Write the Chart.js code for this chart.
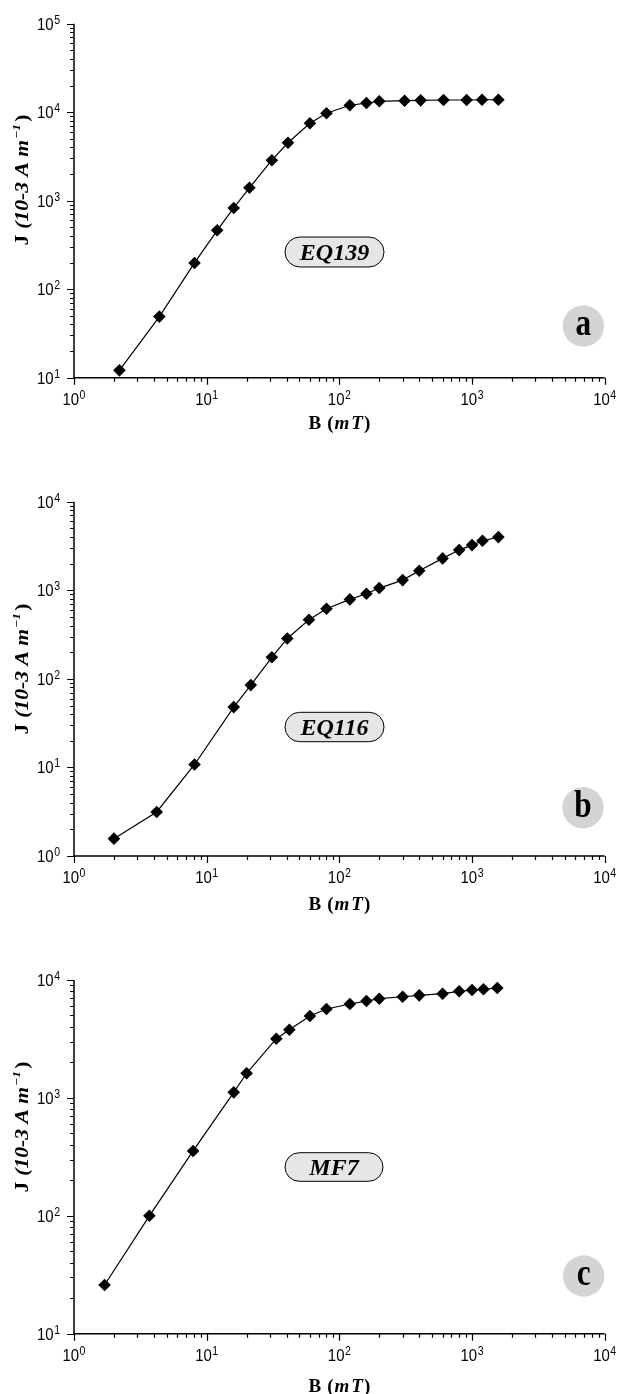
<!DOCTYPE html>
<html>
<head>
<meta charset="utf-8">
<script src="https://cdn.jsdelivr.net/npm/chart.js@4.4.0/dist/chart.umd.min.js"></script>
<style>
  html, body { margin: 0; padding: 0; background: #fff; }
  #wrap { position: relative; width: 621px; height: 1394px; }
  canvas { position: absolute; left: 0; }
</style>
</head>
<body>
<div id="wrap">
  <canvas id="chartA" width="621" height="465" style="top:0px"></canvas>
  <canvas id="chartB" width="621" height="465" style="top:465px"></canvas>
  <canvas id="chartC" width="621" height="464" style="top:930px"></canvas>
</div>
<script>
// applied field B (mT) and remanence J (10-3 A/m)
const fieldA  = [2.2, 4.4, 8.1, 12, 16, 21, 31, 41, 60, 80, 120, 160, 200, 310, 410, 610, 910, 1190, 1580];
const momentA = [12.1, 49, 198, 463, 828, 1400, 2870, 4520, 7500, 9730, 11970, 12700, 13280, 13490, 13620, 13730, 13730, 13830, 13830];

const fieldB  = [2.0, 4.2, 8.1, 16, 21.5, 31, 40.5, 59, 80, 120, 160, 200, 300, 400, 600, 800, 1000, 1200, 1580];
const momentB = [1.57, 3.14, 10.8, 48, 85, 175, 286, 465, 618, 789, 913, 1059, 1303, 1660, 2290, 2843, 3238, 3622, 3984];

const fieldC  = [1.7, 3.7, 7.9, 16, 20, 33.5, 42, 60, 80, 120, 160, 200, 300, 400, 600, 800, 1000, 1220, 1550];
const momentC = [25.9, 100, 355, 1114, 1618, 3177, 3785, 4955, 5675, 6255, 6630, 6940, 7210, 7410, 7650, 8020, 8225, 8340, 8550];

// tick labels are 10^n, these are the exponents
const xDecades  = [0, 1, 2, 3, 4];
const yDecadesA = [1, 2, 3, 4, 5];
const yDecadesB = [0, 1, 2, 3, 4];
const yDecadesC = [1, 2, 3, 4];

const sampleNames  = ['EQ139', 'EQ116', 'MF7'];
const panelLetters = ['a', 'b', 'c'];

const SANS = "'Liberation Sans', Arial, sans-serif";
const SERIF = "'Liberation Serif', 'Times New Roman', serif";

const panels = [
  { id: 'chartA', field: fieldA, moment: momentA, yDec: yDecadesA, padTop: 23.7, padBottom: 87.3,
    yTitleMid: 180, xTitleDy: 51, pill: { x: 285, y: 237, w: 99, h: 30 }, circle: { x: 583.3, y: 326, r: 20.7 } },
  { id: 'chartB', field: fieldB, moment: momentB, yDec: yDecadesB, padTop: 36.7, padBottom: 74,
    yTitleMid: 204, xTitleDy: 54, pill: { x: 285, y: 247.3, w: 99, h: 29.4 }, circle: { x: 583, y: 342.7, r: 20.7 } },
  { id: 'chartC', field: fieldC, moment: momentC, yDec: yDecadesC, padTop: 50, padBottom: 60.3,
    yTitleMid: 197, xTitleDy: 58, pill: { x: 285, y: 222.7, w: 98, h: 28.6 }, circle: { x: 583.7, y: 346, r: 20.7 } }
];

// run of text pieces {t, f, dy, gap}, drawn left to right from x
function runWidth(ctx, parts) {
  let w = 0;
  parts.forEach(p => { ctx.font = p.f; w += ctx.measureText(p.t).width + (p.gap || 0); });
  return w;
}
function drawRun(ctx, parts, x, y) {
  let cx = x;
  parts.forEach(p => {
    ctx.font = p.f;
    ctx.fillText(p.t, cx, y + (p.dy || 0));
    cx += ctx.measureText(p.t).width + (p.gap || 0);
  });
}

function powParts(e) {
  return [
    { t: '10', f: '17px ' + SANS, gap: 0.5 },
    { t: String(e), f: '12px ' + SANS, dy: -6 }
  ];
}

const decor = {
  id: 'decor',
  afterDraw(chart) {
    const idx = chart.options.plugins.decor.idx;
    const p = panels[idx];
    const ctx = chart.ctx, xs = chart.scales.x, ys = chart.scales.y, ca = chart.chartArea;
    ctx.save();
    ctx.strokeStyle = '#000';
    ctx.fillStyle = '#000';
    ctx.textBaseline = 'alphabetic';
    ctx.textAlign = 'left';

    // axis lines, left and bottom only
    ctx.lineWidth = 1.5;
    ctx.beginPath();
    ctx.moveTo(ca.left, ca.top);
    ctx.lineTo(ca.left, ca.bottom);
    ctx.lineTo(ca.right, ca.bottom);
    ctx.stroke();

    // log ticks, pointing outward
    ctx.lineWidth = 1.2;
    ctx.beginPath();
    xDecades.forEach((e, i) => {
      const last = i === xDecades.length - 1;
      for (let k = 1; k <= (last ? 1 : 9); k++) {
        const px = Math.round(xs.getPixelForValue(k * Math.pow(10, e))) + 0.5;
        ctx.moveTo(px, ca.bottom);
        ctx.lineTo(px, ca.bottom + (k === 1 ? 7 : 4));
      }
    });
    p.yDec.forEach((e, i) => {
      const last = i === p.yDec.length - 1;
      for (let k = 1; k <= (last ? 1 : 9); k++) {
        const py = Math.round(ys.getPixelForValue(k * Math.pow(10, e))) + 0.5;
        ctx.moveTo(ca.left, py);
        ctx.lineTo(ca.left - (k === 1 ? 7 : 4), py);
      }
    });
    ctx.stroke();

    // tick labels, slightly narrowed like the original print
    const SX = 0.88;
    xDecades.forEach(e => {
      const parts = powParts(e);
      const w = runWidth(ctx, parts) * SX;
      ctx.save();
      ctx.translate(xs.getPixelForValue(Math.pow(10, e)) - w / 2, ca.bottom + 27.3);
      ctx.scale(SX, 1);
      drawRun(ctx, parts, 0, 0);
      ctx.restore();
    });
    p.yDec.forEach(e => {
      const parts = powParts(e);
      const w = runWidth(ctx, parts) * SX;
      ctx.save();
      ctx.translate(ca.left - 14 - w, ys.getPixelForValue(Math.pow(10, e)) + 6);
      ctx.scale(SX, 1);
      drawRun(ctx, parts, 0, 0);
      ctx.restore();
    });

    // x title: B (mT)
    const xt = [
      { t: 'B', f: 'bold 19px ' + SERIF, gap: 6 },
      { t: '(', f: 'bold 19px ' + SERIF, gap: 1 },
      { t: 'm', f: 'italic bold 19px ' + SERIF, gap: 2 },
      { t: 'T', f: 'italic bold 19px ' + SERIF, gap: 1 },
      { t: ')', f: 'bold 19px ' + SERIF }
    ];
    drawRun(ctx, xt, (ca.left + ca.right) / 2 - runWidth(ctx, xt) / 2, ca.bottom + p.xTitleDy);

    // y title: J (10-3 A m^-1), rotated
    const yt = [
      { t: 'J', f: 'bold 18px ' + SERIF, gap: 5 },
      { t: '(10-3 A m', f: 'italic bold 18px ' + SERIF, gap: 1 },
      { t: '\u22121', f: 'italic bold 11px ' + SERIF, dy: -8, gap: 2 },
      { t: ')', f: 'bold 18px ' + SERIF }
    ];
    const LS = 1.2;
    ctx.save();
    ctx.translate(28, p.yTitleMid);
    ctx.rotate(-Math.PI / 2);
    ctx.scale(LS, 1);
    drawRun(ctx, yt, -runWidth(ctx, yt) / 2, 0);
    ctx.restore();

    // sample label pill
    const pl = p.pill, r = pl.h / 2;
    ctx.beginPath();
    ctx.moveTo(pl.x + r, pl.y);
    ctx.lineTo(pl.x + pl.w - r, pl.y);
    ctx.arc(pl.x + pl.w - r, pl.y + r, r, -Math.PI / 2, Math.PI / 2);
    ctx.lineTo(pl.x + r, pl.y + pl.h);
    ctx.arc(pl.x + r, pl.y + r, r, Math.PI / 2, Math.PI * 1.5);
    ctx.closePath();
    ctx.fillStyle = '#e6e6e6';
    ctx.fill();
    ctx.lineWidth = 1;
    ctx.strokeStyle = '#000';
    ctx.stroke();
    ctx.fillStyle = '#000';
    ctx.font = 'italic bold 24px ' + SERIF;
    ctx.textAlign = 'center';
    ctx.fillText(sampleNames[idx], pl.x + pl.w / 2, pl.y + pl.h / 2 + 8);

    // panel letter in grey disc
    const c = p.circle;
    ctx.beginPath();
    ctx.arc(c.x, c.y, c.r, 0, Math.PI * 2);
    ctx.fillStyle = '#d4d4d4';
    ctx.fill();
    ctx.fillStyle = '#000';
    ctx.save();
    ctx.translate(c.x, c.y + 9);
    ctx.scale(0.92, 1.1);
    ctx.font = 'bold 34px ' + SERIF;
    ctx.fillText(panelLetters[idx], 0, 0);
    ctx.restore();

    ctx.restore();
  }
};

panels.forEach((p, i) => {
  new Chart(document.getElementById(p.id), {
    type: 'line',
    data: {
      datasets: [{
        data: p.field.map((b, j) => ({ x: b, y: p.moment[j] })),
        borderColor: '#000',
        borderWidth: 1.2,
        pointStyle: 'rectRot',
        pointRadius: 6.3,
        pointBackgroundColor: '#000',
        pointBorderColor: '#000',
        pointBorderWidth: 0,
        tension: 0,
        clip: false
      }]
    },
    options: {
      responsive: false,
      animation: false,
      layout: { padding: { left: 74, right: 16.3, top: p.padTop, bottom: p.padBottom } },
      plugins: { legend: { display: false }, tooltip: { enabled: false }, decor: { idx: i } },
      scales: {
        x: { type: 'logarithmic', min: 1, max: 10000, display: false },
        y: { type: 'logarithmic', min: Math.pow(10, p.yDec[0]), max: Math.pow(10, p.yDec[p.yDec.length - 1]), display: false }
      }
    },
    plugins: [decor]
  });
});
</script>
</body>
</html>
